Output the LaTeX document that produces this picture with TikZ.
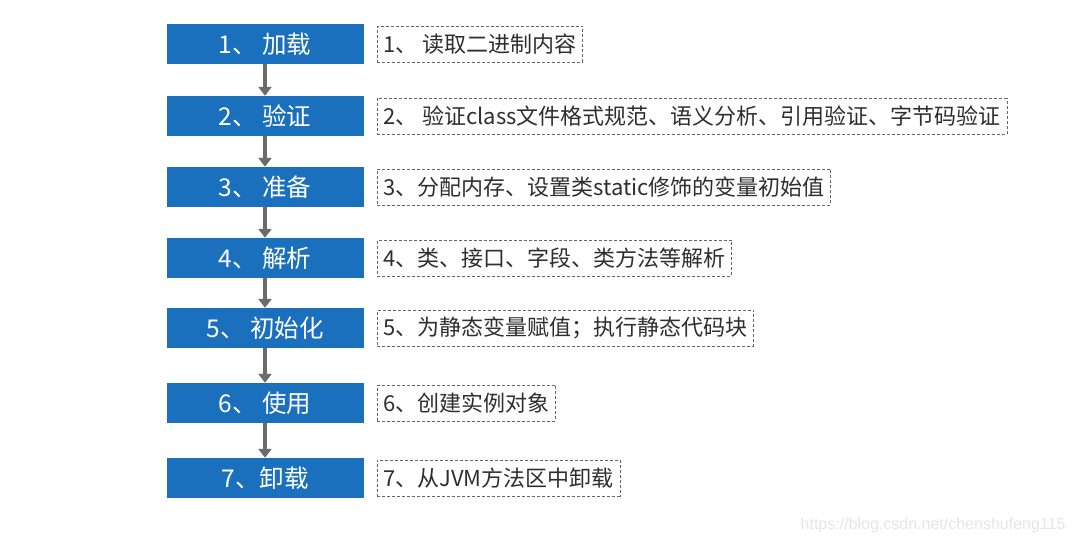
\documentclass[tikz,border=0pt]{standalone}
\usepackage{fontspec}
\setmainfont{Noto Sans CJK SC}
\newfontfamily\markfont{Liberation Sans}
\usetikzlibrary{arrows.meta}
\definecolor{stepblue}{HTML}{1B70BE}
\definecolor{notegray}{HTML}{2E2E2E}
\tikzset{
	stepbox/.style={fill=stepblue, text=white, minimum width=197pt, minimum height=40pt, inner sep=0pt, font=\fontsize{24.5}{26}\selectfont},
	notebox/.style={draw=black!60, densely dashed, line width=0.6pt, anchor=west, text=notegray, minimum height=36pt, inner xsep=6pt, inner ysep=0pt, font=\fontsize{22}{24}\selectfont},
	flow/.style={line width=4pt, color=black!58, -{Triangle[width=13pt,length=9pt]}}
}
\begin{document}
\begin{tikzpicture}[x=1pt, y=-1pt]
			%%%%% START %%%%%
			\useasboundingbox (0, 0) rectangle (1076, 545);
			
			\node[stepbox] (load) at (265, 44) {1、 加载};
			\node[stepbox] (verify) at (265, 116) {2、 验证};
			\node[stepbox] (prepare) at (265, 187) {3、 准备};
			\node[stepbox] (resolve) at (265, 258) {4、 解析};
			\node[stepbox] (init) at (265, 328) {5、 初始化};
			\node[stepbox] (use) at (265, 403) {6、 使用};
			\node[stepbox] (unload) at (265, 478) {7、卸载};
			
			\node[notebox] (loadnote) at (377, 44) {1、 读取二进制内容};
			\node[notebox] (verifynote) at (377, 116) {2、 验证class文件格式规范、语义分析、引用验证、字节码验证};
			\node[notebox] (preparenote) at (377, 187) {3、分配内存、设置类static修饰的变量初始值};
			\node[notebox] (resolvenote) at (377, 258) {4、类、接口、字段、类方法等解析};
			\node[notebox] (initnote) at (377, 328) {5、为静态变量赋值；执行静态代码块};
			\node[notebox] (usenote) at (377, 403) {6、创建实例对象};
			\node[notebox] (unloadnote) at (377, 478) {7、从JVM方法区中卸载};
			
			\draw[flow] (load) -- (verify);
			\draw[flow] (verify) -- (prepare);
			\draw[flow] (prepare) -- (resolve);
			\draw[flow] (resolve) -- (init);
			\draw[flow] (init) -- (use);
			\draw[flow] (use) -- (unload);
			
			\node[anchor=east, text=black!10, font=\markfont\fontsize{16}{18}\selectfont] (mark) at (1069, 525) {https://blog.csdn.net/chenshufeng115};
			%%%%% END %%%%%
\end{tikzpicture}
\end{document}
